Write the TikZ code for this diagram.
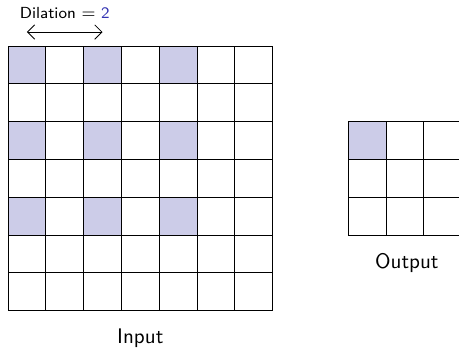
\documentclass[tikz,border=0pt]{standalone}
\usepackage{tikz}
\usetikzlibrary{arrows.meta, positioning}
\usepackage{xcolor}
\renewcommand{\familydefault}{\sfdefault}
\definecolor{hitfill}{RGB}{204,204,232}
\definecolor{dilblue}{RGB}{51,51,178}
\tikzset{
    % grid cells
    cell/.style={rectangle, draw=black, line width=0.4pt, minimum size=0.63cm,
                inner sep=0pt, outer sep=0pt},
    hit/.style={fill=hitfill},
    % labels
    gridlbl/.style={font=\normalsize},
    dillbl/.style={font=\fontsize{7.6}{9}\selectfont},
    dilarrow/.style={{Straight Barb[length=1.2mm]}-{Straight Barb[length=1.2mm]}, line width=0.4pt},
}
\begin{document}
\begin{tikzpicture}[x=0.63cm, y=0.63cm]
\clip (-0.212,-8.016) rectangle (11.93,1.217);
% input: shaded cells first
\foreach \r in {0,2,4} {
  \foreach \c in {0,2,4} {
    \fill[hit] (\c,-\r) rectangle (\c+1,-\r-1);
  }
}
\foreach \r in {0,...,6} {
  \foreach \c in {0,...,6} {
    \node[cell] (in-\r-\c) at (\c+0.5,-\r-0.5) {};
  }
}
% output
\fill[hit] (9,-2) rectangle (10,-3);
\foreach \r in {0,...,2} {
  \foreach \c in {0,...,2} {
    \node[cell] (out-\r-\c) at (\c+9.5,-\r-2.5) {};
  }
}
\node[gridlbl] (inlbl) at (3.5,-7.72) {Input};
\node[gridlbl] (outlbl) at (10.55,-5.74) {Output};
% dilation marker
\coordinate (dfrom) at (0.5,0.37);
\coordinate (dto) at (2.5,0.37);
\draw[dilarrow] (dfrom) -- (dto);
\node[dillbl] (dil) at (1.5,0.86) {Dilation $=$ \textcolor{dilblue}{2}};
\end{tikzpicture}
\end{document}
